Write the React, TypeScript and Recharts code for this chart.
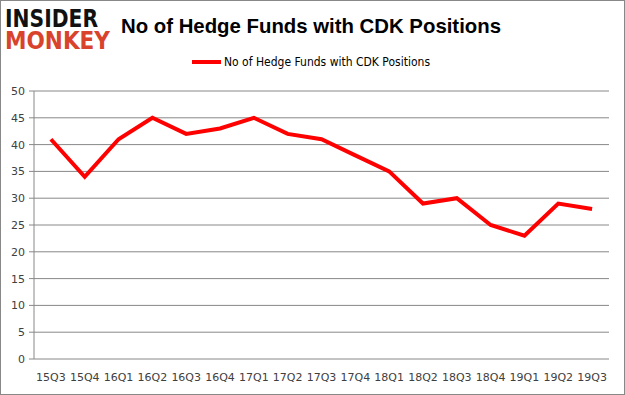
import React from 'react';
import { LineChart, Line, XAxis, YAxis, CartesianGrid } from 'recharts';

const categories = ['15Q3','15Q4','16Q1','16Q2','16Q3','16Q4','17Q1','17Q2','17Q3','17Q4','18Q1','18Q2','18Q3','18Q4','19Q1','19Q2','19Q3'];
const hedgeFunds = [41, 34, 41, 45, 42, 43, 45, 42, 41, 38, 35, 29, 30, 25, 23, 29, 28];
const yTicks = [0, 5, 10, 15, 20, 25, 30, 35, 40, 45, 50];
const seriesName = 'No of Hedge Funds with CDK Positions';
const titleText = 'No of Hedge Funds with CDK Positions';

const data = categories.map((c, i) => ({ idx: i, label: c, value: hedgeFunds[i] }));
const centerTicks = categories.map((_, i) => i);
const boundaryTicks = [...categories.map((_, i) => i - 0.5), categories.length - 0.5];

export default function App() {
  const W = 625, H = 395;
  return (
    <div style={{ position: 'absolute', left: 0, top: 0, width: W, height: H, background: '#fff' }}>
      <LineChart width={W} height={H} data={data} margin={{ top: 91, right: 16, bottom: 0, left: 0 }}>
        <CartesianGrid vertical={false} stroke="#888888" strokeWidth={1} />
        <XAxis
          dataKey="idx"
          type="number"
          domain={[-0.5, categories.length - 0.5]}
          ticks={centerTicks}
          tickFormatter={(v: number) => categories[v] ?? ''}
          interval={0}
          axisLine={false}
          tickLine={false}
          tickSize={0}
          tickMargin={14}
          height={36}
          tick={{ fontSize: 11, fill: '#404040', fontFamily: 'DejaVu Sans' }}
        />
        <XAxis
          xAxisId="b"
          dataKey="idx"
          type="number"
          domain={[-0.5, categories.length - 0.5]}
          ticks={boundaryTicks}
          tickFormatter={() => ''}
          interval={0}
          axisLine={{ stroke: '#888888' }}
          tickLine={{ stroke: '#888888' }}
          tickSize={5}
          height={0}
        />
        <YAxis
          domain={[0, 50]}
          ticks={yTicks}
          interval={0}
          width={34}
          axisLine={{ stroke: '#888888' }}
          tickLine={{ stroke: '#888888' }}
          tickSize={5}
          tickMargin={4}
          tick={{ fontSize: 11, fill: '#404040', fontFamily: 'DejaVu Sans' }}
        />
        <Line
          dataKey="value"
          name={seriesName}
          stroke="#ff0000"
          strokeWidth={4}
          dot={false}
          isAnimationActive={false}
        />
      </LineChart>
      <svg width={W} height={H} style={{ position: 'absolute', left: 0, top: 0, pointerEvents: 'none' }}>
        <rect x={0.5} y={0.5} width={W - 1} height={H - 1} fill="none" stroke="#888888" strokeWidth={1} />
        <text x={5} y={27} fontFamily="DejaVu Sans" fontWeight={900} fontSize={24} fill="#111111" textLength={93} lengthAdjust="spacingAndGlyphs">INSIDER</text>
        <text x={5} y={49} fontFamily="DejaVu Sans" fontWeight={900} fontSize={24} fill="#d9432c" textLength={105} lengthAdjust="spacingAndGlyphs">MONKEY</text>
        <text x={121} y={33} fontFamily="Liberation Sans" fontWeight={700} fontSize={21} fill="#000000" textLength={380} lengthAdjust="spacingAndGlyphs">{titleText}</text>
        <line x1={192} y1={62} x2={221} y2={62} stroke="#ff0000" strokeWidth={4} />
        <text x={224} y={66} fontFamily="DejaVu Sans" fontSize={11.5} fill="#000000" textLength={206} lengthAdjust="spacingAndGlyphs">{seriesName}</text>
      </svg>
    </div>
  );
}
